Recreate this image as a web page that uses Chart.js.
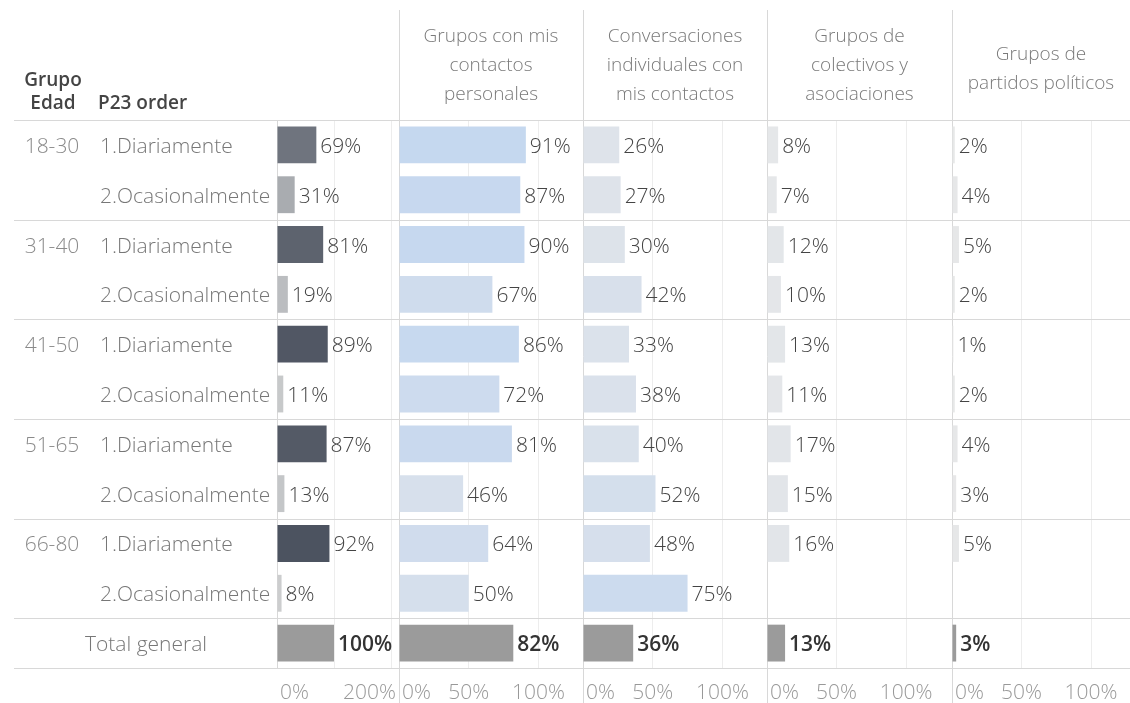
<!DOCTYPE html>
<html>
<head>
<meta charset="utf-8">
<script src="https://cdn.jsdelivr.net/npm/chart.js@4"></script>
<style>
  body { margin: 0; background: #fff; }
  canvas { display: block; }
</style>
</head>
<body>
<canvas id="tabla" width="1130" height="703"></canvas>
<script>
var ageGroups = ['18-30', '31-40', '41-50', '51-65', '66-80'];
var frequencies = ['1.Diariamente', '2.Ocasionalmente'];
var totalLabel = 'Total general';

var columnTitles = [
    [],
    ['Grupos con mis', 'contactos', 'personales'],
    ['Conversaciones', 'individuales con', 'mis contactos'],
    ['Grupos de', 'colectivos y', 'asociaciones'],
    ['Grupos de', 'partidos políticos']
];

// one value per row: 5 age groups x 2 frequencies, then the total
var shareP23 = [69, 31, 81, 19, 89, 11, 87, 13, 92, 8, 100];
var gruposContactos = [91, 87, 90, 67, 86, 72, 81, 46, 64, 50, 82];
var conversaciones = [26, 27, 30, 42, 33, 38, 40, 52, 48, 75, 36];
var colectivos = [8, 7, 12, 10, 13, 11, 17, 15, 16, null, 13];
var partidos = [2, 4, 5, 2, 1, 2, 4, 3, 5, null, 3];

var ticksP23 = [0, 100, 200];
var tickLabelsP23 = [0, 200];
var ticksOtros = [0, 50, 100];

var rowKeys = [];
ageGroups.forEach(function (g) {
    frequencies.forEach(function (f) { rowKeys.push(g + ' ' + f); });
});
rowKeys.push(totalLabel);

var series = [shareP23, gruposContactos, conversaciones, colectivos, partidos];
var xIds = ['x0', 'x1', 'x2', 'x3', 'x4'];
var colWeights = [122, 184, 184, 185, 178];
var colMax = [214, 132, 132, 133, 128];
var lastRow = rowKeys.length - 1;

var FONT = '"Open Sans", "Noto Sans", sans-serif';

function mix(a, b, t) {
    return 'rgb(' + a.map(function (c, i) { return Math.round(c + (b[i] - c) * t); }).join(',') + ')';
}
function greyScale(v) { return mix([216, 217, 217], [64, 71, 85], v / 100); }
function blueScale(v) { return mix([232, 232, 232], [194, 214, 240], v / 100); }

var datasets = series.map(function (values, k) {
    return {
        data: values,
        xAxisID: xIds[k],
        yAxisID: 'y',
        grouped: false,
        barPercentage: 0.74,
        categoryPercentage: 1,
        backgroundColor: function (c) {
            if (c.dataIndex === lastRow) return '#9b9b9b';
            return k === 0 ? greyScale(c.raw) : blueScale(c.raw);
        }
    };
});

var scales = {
    y: {
        type: 'category',
        labels: rowKeys,
        grid: { display: false },
        border: { display: false },
        ticks: { display: false },
        afterFit: function (s) { s.width = 277; }
    }
};
xIds.forEach(function (id, k) {
    var tv = k === 0 ? ticksP23 : ticksOtros;
    scales[id] = {
        type: 'linear',
        position: 'bottom',
        stack: 'columnas',
        stackWeight: colWeights[k],
        min: 0,
        max: colMax[k],
        afterBuildTicks: function (s) {
            s.ticks = tv.map(function (v) { return { value: v }; });
        },
        ticks: { display: false, autoSkip: false },
        grid: {
            drawTicks: false,
            color: function (c) {
                return c.tick && c.tick.value === 0 ? 'rgba(0,0,0,0)' : '#ededed';
            }
        },
        border: { display: false },
        afterFit: function (s) { s.height = 35; }
    };
});

function hline(ctx, x1, x2, y) {
    y = Math.round(y) + 0.5;
    ctx.beginPath(); ctx.moveTo(x1, y); ctx.lineTo(x2, y); ctx.stroke();
}
function vline(ctx, x, y1, y2) {
    x = Math.round(x) + 0.5;
    ctx.beginPath(); ctx.moveTo(x, y1); ctx.lineTo(x, y2); ctx.stroke();
}

var tablePlugin = {
    id: 'tabla',
    beforeDatasetsDraw: function (chart) {
        var ctx = chart.ctx, a = chart.chartArea, y = chart.scales.y;
        var half = (y.getPixelForValue(1) - y.getPixelForValue(0)) / 2;
        ctx.save();
        ctx.strokeStyle = '#d8d8d8';
        ctx.lineWidth = 1;
        hline(ctx, 14, chart.width, a.top);
        for (var i = 2; i < rowKeys.length; i += 2) {
            hline(ctx, 14, chart.width, y.getPixelForValue(i) - half);
        }
        hline(ctx, 14, chart.width, a.bottom);
        xIds.forEach(function (id, k) {
            var px = chart.scales[id].getPixelForValue(0);
            if (k === 0) vline(ctx, px, a.top, a.bottom);
            else vline(ctx, px, 10, chart.height);
        });
        ctx.restore();
    },
    afterDatasetsDraw: function (chart) {
        var ctx = chart.ctx, y = chart.scales.y;
        ctx.save();

        // header of the row area
        ctx.fillStyle = '#444';
        ctx.font = '600 19px ' + FONT;
        ctx.textAlign = 'center';
        ctx.fillText('Grupo', 53, 86);
        ctx.fillText('Edad', 53, 109);
        ctx.textAlign = 'left';
        ctx.fillText('P23 order', 98, 109);

        // column titles
        ctx.font = '300 19px ' + FONT;
        ctx.fillStyle = '#7a7a7a';
        ctx.textAlign = 'center';
        xIds.forEach(function (id, k) {
            var s = chart.scales[id];
            var lines = columnTitles[k];
            var start = lines.length === 3 ? 42 : 60;
            lines.forEach(function (t, i) {
                ctx.fillText(t, (s.left + s.right) / 2, start + i * 29);
            });
        });

        // row labels
        ctx.font = '300 21px ' + FONT;
        rowKeys.forEach(function (key, i) {
            var base = y.getPixelForValue(i) + 8;
            if (i === lastRow) {
                ctx.fillStyle = '#777';
                ctx.textAlign = 'center';
                ctx.fillText(totalLabel, 146, base);
                return;
            }
            if (i % 2 === 0) {
                ctx.fillStyle = '#8a8a8a';
                ctx.textAlign = 'center';
                ctx.fillText(ageGroups[i / 2], 52, base);
            }
            ctx.fillStyle = '#777';
            ctx.textAlign = 'left';
            ctx.fillText(frequencies[i % 2], 100, base);
        });

        // value labels at the end of each bar
        series.forEach(function (values, k) {
            var meta = chart.getDatasetMeta(k);
            meta.data.forEach(function (el, i) {
                var v = values[i];
                if (v === null || v === undefined) return;
                var total = i === lastRow;
                ctx.font = (total ? '600 ' : '300 ') + '21px ' + FONT;
                ctx.fillStyle = total ? '#333' : '#444';
                ctx.textAlign = 'left';
                ctx.fillText(v + '%', el.x + 4, el.y + 8);
            });
        });

        // axis tick labels, kept inside their pane
        ctx.font = '300 21px ' + FONT;
        ctx.fillStyle = '#999';
        ctx.textAlign = 'left';
        xIds.forEach(function (id, k) {
            var s = chart.scales[id];
            var labelled = k === 0 ? tickLabelsP23 : ticksOtros;
            labelled.forEach(function (v) {
                var t = v + '%';
                var w = ctx.measureText(t).width;
                var x = s.getPixelForValue(v) - w / 2;
                x = Math.max(s.left + 3, Math.min(x, s.right - w - 3));
                ctx.fillText(t, x, 699);
            });
        });
        ctx.restore();
    }
};

new Chart(document.getElementById('tabla').getContext('2d'), {
    type: 'bar',
    data: { labels: rowKeys, datasets: datasets },
    options: {
        responsive: false,
        animation: false,
        indexAxis: 'y',
        layout: { padding: { top: 120, left: 0, right: 0, bottom: 0 } },
        plugins: {
            legend: { display: false },
            tooltip: { enabled: false }
        },
        scales: scales
    },
    plugins: [tablePlugin]
});
</script>
</body>
</html>
